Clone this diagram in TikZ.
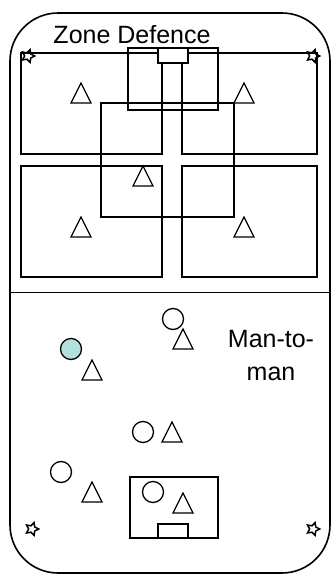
\documentclass[tikz,border=0pt]{standalone}
\usepackage{fontspec}
\setmainfont{Liberation Sans}
\usetikzlibrary{shapes.geometric}
\definecolor{cyanfill}{HTML}{B4E0E0}
\tikzset{
  ln/.style={line width=1.3pt, line join=miter},
  outer/.style={line width=1.6pt, rounded corners=48pt},
  starmark/.style={draw, star, star points=5, star point ratio=2.0, minimum size=13.5pt, inner sep=0pt, line width=1.5pt, rotate=-18},
  player/.style={draw, circle, minimum size=21pt, inner sep=0pt, line width=1.3pt},
  lbl/.style={font=\fontsize{25}{33}\selectfont, align=center, inner sep=0pt},
  tri/.pic={\draw[ln] (0,-10) -- (10,10) -- (-10,10) -- cycle;}
}
\begin{document}
\begin{tikzpicture}[x=1pt, y=-1pt]
\useasboundingbox (0,0) rectangle (331,574);
% outer field
\draw[outer] (10,13) rectangle (330,573);
\draw[line width=1.5pt] (10,292.5) -- (331,292.5);
% zone defence
\node[lbl] (zd) at (132,35) {Zone Defence};
\draw[ln] (21,53) -- (317,53);
\draw[ln] (21,53) rectangle (162,154);
\draw[ln] (182,53) rectangle (317,154);
\draw[ln] (21,166) rectangle (162,277);
\draw[ln] (182,166) rectangle (317,277);
\draw[ln] (128,48) rectangle (218,110);
\draw[ln] (101,103) rectangle (234,217);
\draw[ln, fill=white] (158,48) rectangle (188,63);
\draw[ln] (162,63) -- (162,154);
\draw[ln] (182,63) -- (182,154);
\node[starmark] (s1) at (28,56) {};
\node[starmark] (s2) at (313,56) {};
\node[starmark] (s3) at (32,529) {};
\node[starmark] (s4) at (313,529) {};
\pic at (81,93) {tri};
\pic at (244,93) {tri};
\pic at (143,176) {tri};
\pic at (81,227) {tri};
\pic at (244,227) {tri};
% man-to-man
\node[lbl] (mm) at (271,356) {Man-to-\\man};
\node[player] (p1) at (173,319) {};
\pic at (183,339) {tri};
\node[player, fill=cyanfill] (p2) at (71,349) {};
\pic at (92,370) {tri};
\node[player] (p3) at (143,432) {};
\pic at (172,432) {tri};
\node[player] (p4) at (61,472) {};
\pic at (92,492) {tri};
\draw[ln] (130,477) rectangle (218,538);
\draw[ln] (158,524) rectangle (188,538);
\node[player] (p5) at (153,492) {};
\pic at (183,503) {tri};
\end{tikzpicture}
\end{document}
